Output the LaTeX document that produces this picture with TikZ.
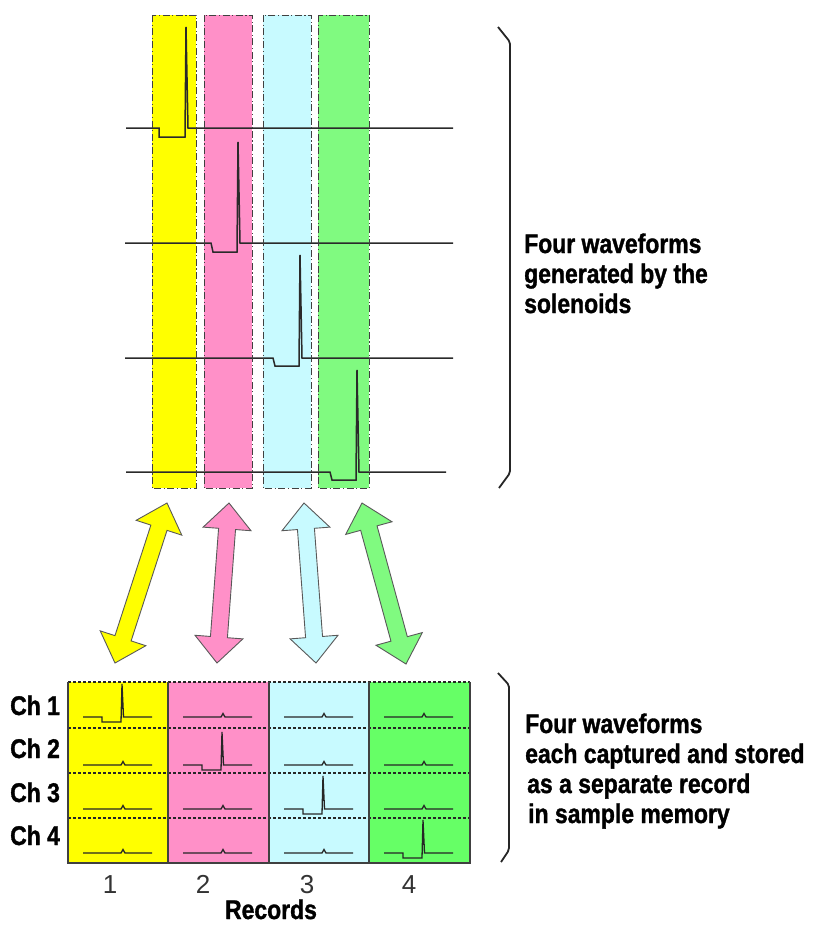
\documentclass[tikz,border=0pt]{standalone}
\usepackage{fontspec}
\setmainfont{Liberation Sans}[FakeStretch=0.85, BoldFeatures={FakeBold=1.2}]
\newfontfamily\numfont{Liberation Sans}
\usetikzlibrary{calc}
\definecolor{cyel}{HTML}{FFFF00}
\definecolor{cpink}{HTML}{FF90C8}
\definecolor{ccyan}{HTML}{C8FAFF}
\definecolor{cgreen}{HTML}{80FA80}
\definecolor{cgreenb}{HTML}{66FF66}
\definecolor{cline}{HTML}{2A2A2A}
\tikzset{
  colbox/.style={draw=black!75, line width=1pt, dash pattern=on 7pt off 2.5pt on 1.2pt off 2.5pt},
  wave/.style={draw=cline, line width=1.5pt, line join=miter},
  minwave/.style={draw=black!85, line width=1.3pt},
  arrowbox/.style={draw=black!65, line width=0.9pt, line join=miter},
  rowsep/.style={draw=black!85, line width=1.5pt, dash pattern=on 3pt off 2pt},
  tabline/.style={draw=black!75, line width=1.2pt},
  brace/.style={draw=black!85, line width=1.8pt, line join=round, rounded corners=2pt},
  desc/.style={anchor=base west, inner sep=0pt, font=\bfseries\fontsize{27}{30}\selectfont},
  chlab/.style={anchor=base west, inner sep=0pt, font=\bfseries\fontsize{27}{30}\selectfont},
  numlab/.style={anchor=base, inner sep=0pt, font=\numfont\fontsize{26}{30}\selectfont, text=black!80},
}
\def\ah{26pt}\def\aw{24pt}\def\sw{8.5pt}
\newcommand\dblarrow[3]{%
  \filldraw[arrowbox, fill=#1] (#2)
    -- ($(#2)!\ah!(#3)!\aw!90:(#3)$) -- ($(#2)!\ah!(#3)!\sw!90:(#3)$)
    -- ($(#3)!\ah!(#2)!\sw!-90:(#2)$) -- ($(#3)!\ah!(#2)!\aw!-90:(#2)$)
    -- (#3)
    -- ($(#3)!\ah!(#2)!\aw!90:(#2)$) -- ($(#3)!\ah!(#2)!\sw!90:(#2)$)
    -- ($(#2)!\ah!(#3)!\sw!-90:(#3)$) -- ($(#2)!\ah!(#3)!\aw!-90:(#3)$)
    -- cycle;}
\begin{document}
\begin{tikzpicture}[x=1pt,y=-1pt]
\useasboundingbox (0,0) rectangle (812,926);
% ---- top colour columns
\fill[cyel]   (152,15) rectangle (196,488);
\fill[cpink]  (204,15) rectangle (252,488);
\fill[ccyan]  (263,15) rectangle (311,488);
\fill[cgreen] (318,15) rectangle (369,488);
% ---- waveforms
\draw[wave] (126,128) -- (159,128) -- (159,137) -- (185,137) -- (186,27) -- (188,128) -- (453,128);
\draw[wave] (125,243) -- (211,243) -- (213,252) -- (237,252) -- (238,142) -- (240,243) -- (453,243);
\draw[wave] (125,358) -- (273,358) -- (275,366) -- (299,366) -- (300,255) -- (302,358) -- (453,358);
\draw[wave] (126,472) -- (330,472) -- (332,480) -- (356,480) -- (357,370) -- (359,472) -- (446,472);
% ---- dash-dot column frames
\draw[colbox] (152,15) rectangle (196,488);
\draw[colbox] (204,15) rectangle (252,488);
\draw[colbox] (263,15) rectangle (311,488);
\draw[colbox] (318,15) rectangle (369,488);
% ---- upper brace and text
\coordinate (b1a) at (498,27); \coordinate (b1b) at (510,42);
\coordinate (b1c) at (510,473); \coordinate (b1d) at (499,488);
\draw[brace] (b1a) -- (b1b) -- (b1c) -- (b1d);
\node[desc] (t1) at (524,253) {Four waveforms};
\node[desc] (t2) at (524,283) {generated by the};
\node[desc] (t3) at (524,313) {solenoids};
% ---- double arrows
\coordinate (ya) at (167,503); \coordinate (yb) at (115,663);
\coordinate (pa) at (229,503); \coordinate (pb) at (217,663);
\coordinate (ca) at (304,503); \coordinate (cb) at (316,663);
\coordinate (ga) at (362,503); \coordinate (gb) at (406,664);
\dblarrow{cyel}{ya}{yb}
\dblarrow{cpink}{pa}{pb}
\dblarrow{ccyan}{ca}{cb}
\dblarrow{cgreen}{ga}{gb}
% ---- record table
\fill[cyel]    (68,682)  rectangle (168,863);
\fill[cpink]   (168,682) rectangle (269,863);
\fill[ccyan]   (269,682) rectangle (369,863);
\fill[cgreenb] (369,682) rectangle (470,863);
\foreach \cl [count=\c] in {68,168,269,369}{
  \foreach \b [count=\r] in {717,765,809,853}{
    \ifnum\c=\r
      \draw[minwave] (\cl+15,\b) -- (\cl+34,\b) -- (\cl+34,\b+5) -- (\cl+53,\b+5) -- (\cl+54,\b-33) -- (\cl+55.5,\b) -- (\cl+84,\b);
    \else
      \draw[minwave] (\cl+15,\b) -- (\cl+53,\b) -- (\cl+55,\b-3.5) -- (\cl+57,\b) -- (\cl+84,\b);
    \fi
  }
}
\foreach \y in {682,728,773,818}{ \draw[rowsep] (68,\y) -- (470,\y); }
\draw[tabline] (68,682) -- (68,863) -- (470,863) -- (470,682);
\foreach \x in {168,269,369}{ \draw[tabline] (\x,682) -- (\x,863); }
% ---- lower brace and text
\coordinate (b2a) at (498,673); \coordinate (b2b) at (509,685);
\coordinate (b2c) at (509,850); \coordinate (b2d) at (501,862);
\draw[brace] (b2a) -- (b2b) -- (b2c) -- (b2d);
\node[desc] (u1) at (525,733) {Four waveforms};
\node[desc] (u2) at (525,763) {each captured and stored};
\node[desc] (u3) at (527,793) {as a separate record};
\node[desc] (u4) at (528,823) {in sample memory};
% ---- channel labels
\node[chlab] (ch1) at (10,715) {Ch 1};
\node[chlab] (ch2) at (10,758) {Ch 2};
\node[chlab] (ch3) at (10,802) {Ch 3};
\node[chlab] (ch4) at (10,845) {Ch 4};
% ---- record numbers
\node[numlab] (n1) at (110,893) {1};
\node[numlab] (n2) at (203,893) {2};
\node[numlab] (n3) at (307,893) {3};
\node[numlab] (n4) at (409,893) {4};
\node[desc, anchor=base] (rec) at (271,919) {Records};
\end{tikzpicture}
\end{document}
